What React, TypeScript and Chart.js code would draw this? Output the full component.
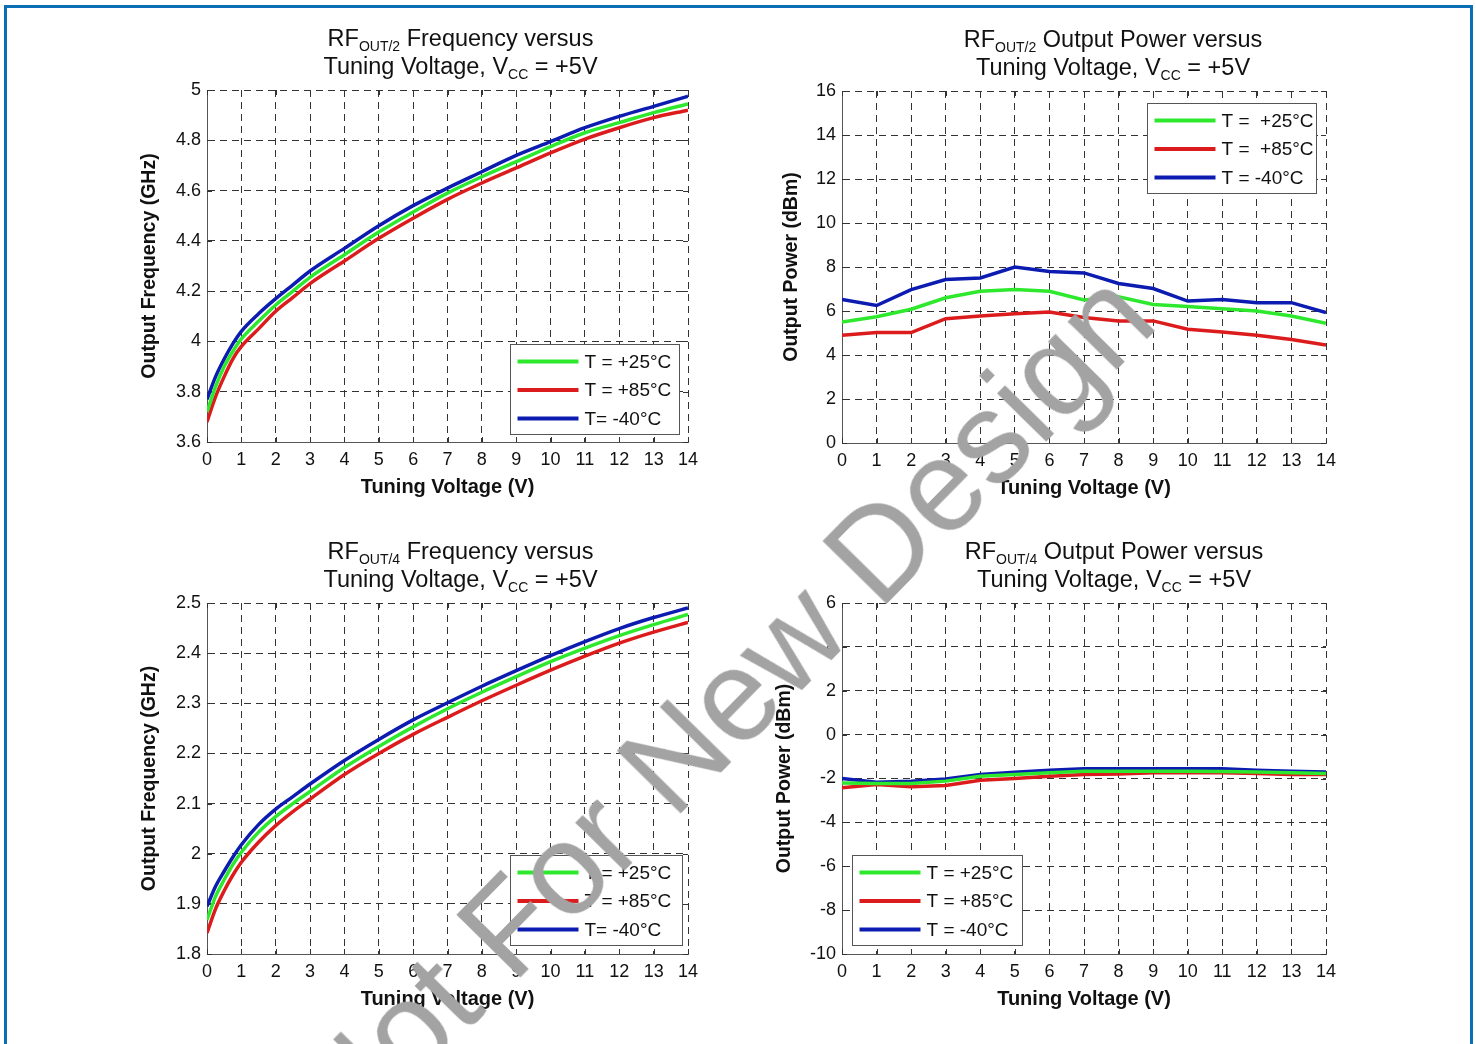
import React, { useEffect, useRef } from "react";
import { Chart, registerables } from "chart.js";

Chart.register(...registerables);

const FONT = "'Liberation Sans', Arial, Helvetica, sans-serif";

// ---------- DATA ----------
const xTickValues = [0, 1, 2, 3, 4, 5, 6, 7, 8, 9, 10, 11, 12, 13, 14];

const freqVoltage = [0, 0.25, 0.5, 0.75, 1, 1.5, 2, 2.5, 3, 4, 5, 6, 7, 8, 9, 10, 11, 12, 13, 14];

// RF OUT/2 frequency (GHz)
const out2Freq25 = [3.72, 3.82, 3.9, 3.96, 4.01, 4.08, 4.145, 4.2, 4.255, 4.345, 4.435, 4.515, 4.59, 4.655, 4.715, 4.775, 4.83, 4.87, 4.91, 4.945];
const out2Freq85 = [3.68, 3.78, 3.86, 3.93, 3.98, 4.05, 4.12, 4.175, 4.23, 4.32, 4.41, 4.49, 4.565, 4.63, 4.69, 4.75, 4.805, 4.85, 4.89, 4.92];
const out2FreqM40 = [3.77, 3.86, 3.93, 3.99, 4.04, 4.11, 4.17, 4.225, 4.28, 4.37, 4.46, 4.54, 4.61, 4.675, 4.74, 4.795, 4.85, 4.895, 4.935, 4.975];

// RF OUT/4 frequency (GHz)
const out4Freq25 = [1.868, 1.915, 1.948, 1.978, 2.003, 2.043, 2.074, 2.1, 2.124, 2.172, 2.214, 2.253, 2.289, 2.322, 2.353, 2.383, 2.41, 2.435, 2.457, 2.477];
const out4Freq85 = [1.842, 1.89, 1.926, 1.957, 1.983, 2.023, 2.056, 2.084, 2.109, 2.158, 2.2, 2.238, 2.272, 2.305, 2.336, 2.366, 2.394, 2.42, 2.442, 2.461];
const out4FreqM40 = [1.895, 1.935, 1.965, 1.993, 2.018, 2.058, 2.089, 2.114, 2.139, 2.186, 2.228, 2.267, 2.301, 2.334, 2.365, 2.395, 2.423, 2.449, 2.471, 2.49];

const powerVoltage = [0, 1, 2, 3, 4, 5, 6, 7, 8, 9, 10, 11, 12, 13, 14];

// RF OUT/2 output power (dBm)
const out2Pow25 = [5.5, 5.74, 6.08, 6.6, 6.9, 6.98, 6.9, 6.5, 6.65, 6.3, 6.2, 6.1, 6.0, 5.77, 5.44];
const out2Pow85 = [4.9, 5.02, 5.02, 5.65, 5.77, 5.88, 5.95, 5.7, 5.55, 5.55, 5.17, 5.05, 4.9, 4.7, 4.45];
const out2PowM40 = [6.52, 6.25, 6.97, 7.43, 7.5, 8.0, 7.8, 7.73, 7.25, 7.02, 6.45, 6.52, 6.38, 6.38, 5.93];

// RF OUT/4 output power (dBm)
const out4Pow25 = [-2.2, -2.23, -2.23, -2.12, -1.9, -1.82, -1.74, -1.67, -1.67, -1.67, -1.67, -1.68, -1.7, -1.74, -1.77];
const out4Pow85 = [-2.42, -2.27, -2.38, -2.32, -2.08, -2.0, -1.9, -1.82, -1.8, -1.74, -1.74, -1.74, -1.77, -1.82, -1.82];
const out4PowM40 = [-2.0, -2.17, -2.12, -2.02, -1.82, -1.72, -1.62, -1.56, -1.56, -1.56, -1.56, -1.56, -1.62, -1.67, -1.7];

const legendLabelsA = ["T = +25°C", "T = +85°C", "T= -40°C"];
const legendLabelsB = ["T =  +25°C", "T =  +85°C", "T = -40°C"];
const legendLabelsC = ["T = +25°C", "T = +85°C", "T = -40°C"];

const seriesColors = ["#2ee82e", "#dc1c1c", "#0c1cb0"];

// ---------- LAYOUT ----------
const AXIS_W = 87;
const PAD_TOP = 70;
const PAD_RIGHT = 32;
const X_AXIS_H = 78;

type Seg = { t: string; sub?: boolean };

type Spec = {
  left: number;
  top: number;
  width: number;
  height: number;
  xs: number[];
  series: number[][];
  labels: string[];
  yMin: number;
  yMax: number;
  yStep: number;
  yTitle: string;
  yTitlePad: number;
  title1: Seg[];
  title2: Seg[];
  titleDx: number;
  legendCorner: "tr" | "br" | "bl";
  legendInsetX: number;
  legendInsetY: number;
  legendW: number;
  smooth: boolean;
};

const title2: Seg[] = [{ t: "Tuning Voltage, V" }, { t: "CC", sub: true }, { t: " = +5V" }];

const specs: Spec[] = [
  {
    left: 120, top: 20, width: 600, height: 500,
    xs: freqVoltage, series: [out2Freq25, out2Freq85, out2FreqM40], labels: legendLabelsA,
    yMin: 3.6, yMax: 5, yStep: 0.2, yTitle: "Output Frequency (GHz)", yTitlePad: 18,
    title1: [{ t: "RF" }, { t: "OUT/2", sub: true }, { t: " Frequency versus" }], title2, titleDx: 13,
    legendCorner: "br", legendInsetX: 9, legendInsetY: 8, legendW: 169, smooth: true,
  },
  {
    left: 755, top: 21, width: 603, height: 500,
    xs: powerVoltage, series: [out2Pow25, out2Pow85, out2PowM40], labels: legendLabelsB,
    yMin: 0, yMax: 16, yStep: 2, yTitle: "Output Power (dBm)", yTitlePad: 25,
    title1: [{ t: "RF" }, { t: "OUT/2", sub: true }, { t: " Output Power versus" }], title2, titleDx: 29,
    legendCorner: "tr", legendInsetX: 10, legendInsetY: 12, legendW: 169, smooth: false,
  },
  {
    left: 120, top: 533, width: 600, height: 499,
    xs: freqVoltage, series: [out4Freq25, out4Freq85, out4FreqM40], labels: legendLabelsA,
    yMin: 1.8, yMax: 2.5, yStep: 0.1, yTitle: "Output Frequency (GHz)", yTitlePad: 18,
    title1: [{ t: "RF" }, { t: "OUT/4", sub: true }, { t: " Frequency versus" }], title2, titleDx: 13,
    legendCorner: "br", legendInsetX: 6, legendInsetY: 9, legendW: 172, smooth: true,
  },
  {
    left: 755, top: 533, width: 603, height: 499,
    xs: powerVoltage, series: [out4Pow25, out4Pow85, out4PowM40], labels: legendLabelsC,
    yMin: -10, yMax: 6, yStep: 2, yTitle: "Output Power (dBm)", yTitlePad: 18,
    title1: [{ t: "RF" }, { t: "OUT/4", sub: true }, { t: " Output Power versus" }], title2, titleDx: 30,
    legendCorner: "bl", legendInsetX: 10, legendInsetY: 9, legendW: 170, smooth: false,
  },
];

function drawSegs(ctx: CanvasRenderingContext2D, segs: Seg[], cx: number, baseline: number) {
  const main = `23.5px ${FONT}`;
  const sub = `14px ${FONT}`;
  let total = 0;
  for (const s of segs) {
    ctx.font = s.sub ? sub : main;
    total += ctx.measureText(s.t).width;
  }
  let x = cx - total / 2;
  ctx.textAlign = "left";
  ctx.textBaseline = "alphabetic";
  ctx.fillStyle = "#111";
  for (const s of segs) {
    ctx.font = s.sub ? sub : main;
    ctx.fillText(s.t, x, baseline + (s.sub ? 5 : 0));
    x += ctx.measureText(s.t).width;
  }
}

function makePlugins(spec: Spec) {
  const titlePlugin = {
    id: "subTitle",
    afterDraw(chart: any) {
      const { ctx, chartArea } = chart;
      const cx = (chartArea.left + chartArea.right) / 2 + spec.titleDx;
      ctx.save();
      drawSegs(ctx, spec.title1, cx, chartArea.top - 44);
      drawSegs(ctx, spec.title2, cx, chartArea.top - 16);
      ctx.restore();
    },
  };

  const tickPlugin = {
    id: "innerTicks",
    beforeDatasetsDraw(chart: any) {
      const { ctx, chartArea, scales } = chart;
      const L = 5;
      ctx.save();
      ctx.strokeStyle = "#333";
      ctx.lineWidth = 1;
      ctx.beginPath();
      for (const t of scales.x.ticks) {
        const px = Math.round(scales.x.getPixelForValue(t.value)) + 0.5;
        ctx.moveTo(px, chartArea.bottom);
        ctx.lineTo(px, chartArea.bottom - L);
        ctx.moveTo(px, chartArea.top);
        ctx.lineTo(px, chartArea.top + L);
      }
      for (const t of scales.y.ticks) {
        const py = Math.round(scales.y.getPixelForValue(t.value)) + 0.5;
        ctx.moveTo(chartArea.left, py);
        ctx.lineTo(chartArea.left + L, py);
        ctx.moveTo(chartArea.right, py);
        ctx.lineTo(chartArea.right - L, py);
      }
      ctx.stroke();
      ctx.restore();
    },
  };

  const legendPlugin = {
    id: "insideLegend",
    afterDatasetsDraw(chart: any) {
      const { ctx, chartArea } = chart;
      const w = spec.legendW;
      const h = 90;
      let bx: number;
      let by: number;
      if (spec.legendCorner === "tr") {
        bx = chartArea.right - spec.legendInsetX - w;
        by = chartArea.top + spec.legendInsetY;
      } else if (spec.legendCorner === "br") {
        bx = chartArea.right - spec.legendInsetX - w;
        by = chartArea.bottom - spec.legendInsetY - h;
      } else {
        bx = chartArea.left + spec.legendInsetX;
        by = chartArea.bottom - spec.legendInsetY - h;
      }
      bx = Math.round(bx) + 0.5;
      by = Math.round(by) + 0.5;
      ctx.save();
      ctx.fillStyle = "#fff";
      ctx.fillRect(bx, by, w, h);
      ctx.strokeStyle = "#555";
      ctx.lineWidth = 1;
      ctx.strokeRect(bx, by, w, h);
      const rows = [17, 45.5, 74];
      chart.data.datasets.forEach((ds: any, i: number) => {
        const y = by + rows[i];
        ctx.strokeStyle = ds.borderColor;
        ctx.lineWidth = 4;
        ctx.beginPath();
        ctx.moveTo(bx + 7, y);
        ctx.lineTo(bx + 68, y);
        ctx.stroke();
        ctx.fillStyle = "#111";
        ctx.font = `19px ${FONT}`;
        ctx.textAlign = "left";
        ctx.textBaseline = "middle";
        ctx.fillText(ds.label, bx + 74, y + 1);
      });
      ctx.restore();
    },
  };

  return [tickPlugin, legendPlugin, titlePlugin];
}

function ChartPanel({ spec }: { spec: Spec }) {
  const ref = useRef<HTMLCanvasElement | null>(null);
  useEffect(() => {
    if (!ref.current) return;
    const datasets = spec.series.map((ys, i) => ({
      label: spec.labels[i],
      data: spec.xs.map((x, j) => ({ x, y: ys[j] })),
      borderColor: seriesColors[i],
      backgroundColor: seriesColors[i],
      borderWidth: 3.5,
      pointRadius: 0,
      cubicInterpolationMode: spec.smooth ? "monotone" : "default",
      tension: 0,
      fill: false,
    }));
    const chart = new Chart(ref.current, {
      type: "line",
      data: { datasets: datasets as any },
      options: {
        responsive: false,
        animation: false,
        devicePixelRatio: 1,
        layout: { padding: { left: 0, top: PAD_TOP, right: PAD_RIGHT, bottom: 0 } },
        plugins: {
          legend: { display: false },
          title: { display: false },
          tooltip: { enabled: false },
        },
        events: [],
        scales: {
          x: {
            type: "linear",
            min: 0,
            max: 14,
            afterBuildTicks: (s: any) => {
              s.ticks = xTickValues.map((v) => ({ value: v }));
            },
            ticks: {
              stepSize: 1,
              autoSkip: false,
              maxRotation: 0,
              color: "#111",
              padding: 7,
              font: { family: FONT, size: 18 },
            },
            grid: { color: "#333", lineWidth: 1, drawTicks: false },
            border: { display: true, color: "#555", width: 1, dash: [7, 5] },
            title: {
              display: true,
              text: "Tuning Voltage (V)",
              color: "#111",
              font: { family: FONT, size: 20, weight: "bold" },
              padding: { top: 0, bottom: 21 },
            },
            afterFit: (s: any) => {
              s.height = X_AXIS_H;
              s.paddingLeft = 0;
              s.paddingRight = 0;
            },
          },
          y: {
            type: "linear",
            min: spec.yMin,
            max: spec.yMax,
            ticks: {
              stepSize: spec.yStep,
              color: "#111",
              padding: 6,
              font: { family: FONT, size: 18 },
              callback: (v: any) => String(Math.round(Number(v) * 100) / 100),
            },
            grid: { color: "#333", lineWidth: 1, drawTicks: false },
            border: { display: true, color: "#555", width: 1, dash: [7, 5] },
            title: {
              display: true,
              text: spec.yTitle,
              color: "#111",
              font: { family: FONT, size: 19.5, weight: "bold" },
              padding: { top: spec.yTitlePad, bottom: 0 },
            },
            afterFit: (s: any) => {
              s.width = AXIS_W;
              s.paddingTop = 0;
              s.paddingBottom = 0;
            },
          },
        },
      } as any,
      plugins: makePlugins(spec) as any,
    });
    return () => chart.destroy();
  }, [spec]);
  return (
    <canvas
      ref={ref}
      width={spec.width}
      height={spec.height}
      style={{ position: "absolute", left: spec.left, top: spec.top, width: spec.width, height: spec.height }}
    />
  );
}

export default function App() {
  return (
    <div
      style={{
        position: "fixed",
        left: 0,
        top: 0,
        width: 1476,
        height: 1044,
        overflow: "hidden",
        background: "#fff",
      }}
    >
      <div
        style={{
          position: "absolute",
          left: 4,
          top: 5,
          width: 1463,
          height: 1100,
          borderLeft: "3px solid #0b6fb5",
          borderRight: "3px solid #0b6fb5",
          borderTop: "3px solid #0b6fb5",
        }}
      />
      {specs.map((s, i) => (
        <ChartPanel key={i} spec={s} />
      ))}
      <div
        style={{
          position: "absolute",
          left: 722,
          top: 708,
          transform: "translate(-50%, -50%) rotate(-45.5deg)",
          fontFamily: FONT,
          fontSize: 129,
          lineHeight: 1,
          color: "#a3a3a3",
          whiteSpace: "nowrap",
          pointerEvents: "none",
        }}
      >
        Not For New Design
      </div>
    </div>
  );
}
